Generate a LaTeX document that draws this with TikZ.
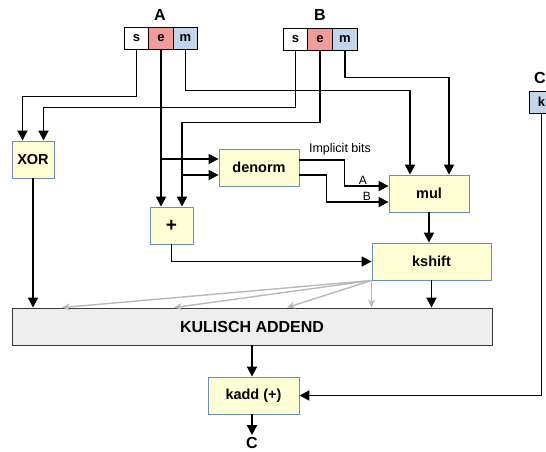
\documentclass[tikz,border=0pt]{standalone}
\usepackage{fontspec}
\setmainfont{Liberation Sans}
\usetikzlibrary{arrows.meta}

\definecolor{expred}{HTML}{F19C99}
\definecolor{mantblue}{HTML}{C3D5EA}
\definecolor{unitfill}{HTML}{FFFFD6}
\definecolor{unitline}{HTML}{6C8EBF}
\definecolor{accfill}{HTML}{EEEEEE}
\definecolor{accline}{HTML}{36393D}

\begin{document}
\begin{tikzpicture}[x=1pt, y=-1pt,
  field/.style={draw=black, line width=0.9pt, minimum width=24.5pt, minimum height=22pt, inner sep=0pt, font=\fontsize{13}{13}\selectfont\bfseries},
  unit/.style={draw=unitline, fill=unitfill, line width=0.9pt, minimum height=37pt, inner sep=0pt, font=\fontsize{14.5}{14.5}\selectfont\bfseries},
  regname/.style={font=\fontsize{16}{16}\selectfont\bfseries, inner sep=2pt},
  wire/.style={line width=1.8pt, -{Triangle[length=10pt,width=10pt]}},
  spread/.style={line width=1.4pt, gray!55, -{Stealth[length=8pt,width=7pt,inset=2.5pt]}},
  tag/.style={font=\fontsize{12}{12}\selectfont, inner sep=1pt}]
\useasboundingbox (0,0) rectangle (546,451);

% Operands A, B and accumulator C
\node[regname] (aName) at (160,15) {A};
\node[field] (aS) at (136.5,38) {s};
\node[field, fill=expred] (aE) at (161,38) {e};
\node[field, fill=mantblue] (aM) at (185.5,38) {m};
\node[regname] (bName) at (320,15) {B};
\node[field] (bS) at (295.5,39) {s};
\node[field, fill=expred] (bE) at (320,39) {e};
\node[field, fill=mantblue] (bM) at (345,39) {m};
\node[regname] (cName) at (540,78) {C};
\node[field, fill=mantblue] (cK) at (541.5,102) {k};

% Units
\node[unit, minimum width=42pt] (xor) at (33,159.5) {XOR};
\node[unit, minimum width=43pt, font=\fontsize{19}{19}\selectfont\bfseries] (plus) at (171.5,225.5) {+};
\node[unit, minimum width=80pt] (denorm) at (259,167.5) {denorm};
\node[unit, minimum width=80pt] (mul) at (429,193.5) {mul};
\node[unit, minimum width=119pt] (kshift) at (431.5,261.5) {kshift};
\node[unit, minimum width=480pt, draw=accline, fill=accfill, font=\fontsize{16}{16}\selectfont\bfseries] (kulisch) at (252,326.5) {KULISCH ADDEND};
\node[unit, minimum width=91pt] (kadd) at (253.5,395.5) {kadd (+)};
\node[regname] (cOut) at (252,443) {C};
\node[tag, font=\fontsize{12.5}{12.5}\selectfont] (implicit) at (340,149) {Implicit bits};

% Sign bits
\draw[wire] (aS.south) -- ++(0,47) -| ([xshift=-10.5pt]xor.north);
\draw[wire] (bS.south) -- ++(0,57) -| ([xshift=10.5pt]xor.north);
% Exponents
\coordinate (dnA) at ([yshift=8.5pt]denorm.west);
\coordinate (dnB) at ([yshift=-7.5pt]denorm.west);
\draw[wire] (aE.south) -- ([xshift=-10.5pt]plus.north);
\draw[wire] (aE.south |- dnA) -- (dnA);
\draw[wire] (bE.south) -- ++(0,72) -| ([xshift=10.5pt]plus.north);
\draw[wire] ([xshift=10.5pt]plus.north |- dnB) -- (dnB);
% Mantissas
\draw[wire] (aM.south) -- ++(0,41) -| ([xshift=-19pt]mul.north);
\draw[wire] (bM.south) -- ++(0,27) -| ([xshift=20pt]mul.north);
\draw[wire] ([yshift=7.5pt]denorm.east) -- ++(45,0) |- ([yshift=7.5pt]mul.west) node[tag, pos=0.71, above] {A};
\draw[wire] ([yshift=-7.5pt]denorm.east) -- ++(27,0) |- ([yshift=-8.5pt]mul.west) node[tag, pos=0.825, above] {B};

% Product and shift
\draw[wire] (mul.south) -- (mul.south |- kshift.north);
\draw[wire] (plus.south) |- (kshift.west);
\draw[wire] (kshift.south) -- (kshift.south |- kulisch.north);
\draw[wire] (xor.south) -- (xor.south |- kulisch.north);
\foreach \dx in {-190,-78,35}
  \draw[spread] (kshift.south west) -- ([xshift=\dx pt]kulisch.north);
\draw[spread] (kshift.south west) -- (kshift.south west |- kulisch.north);

% Accumulate
\draw[wire] (kulisch.south) -- (kulisch.south |- kadd.north);
\draw[wire] (cK.south) |- (kadd.east);
\draw[wire] (kadd.south -| cOut) -- (cOut.north);
\end{tikzpicture}
\end{document}
